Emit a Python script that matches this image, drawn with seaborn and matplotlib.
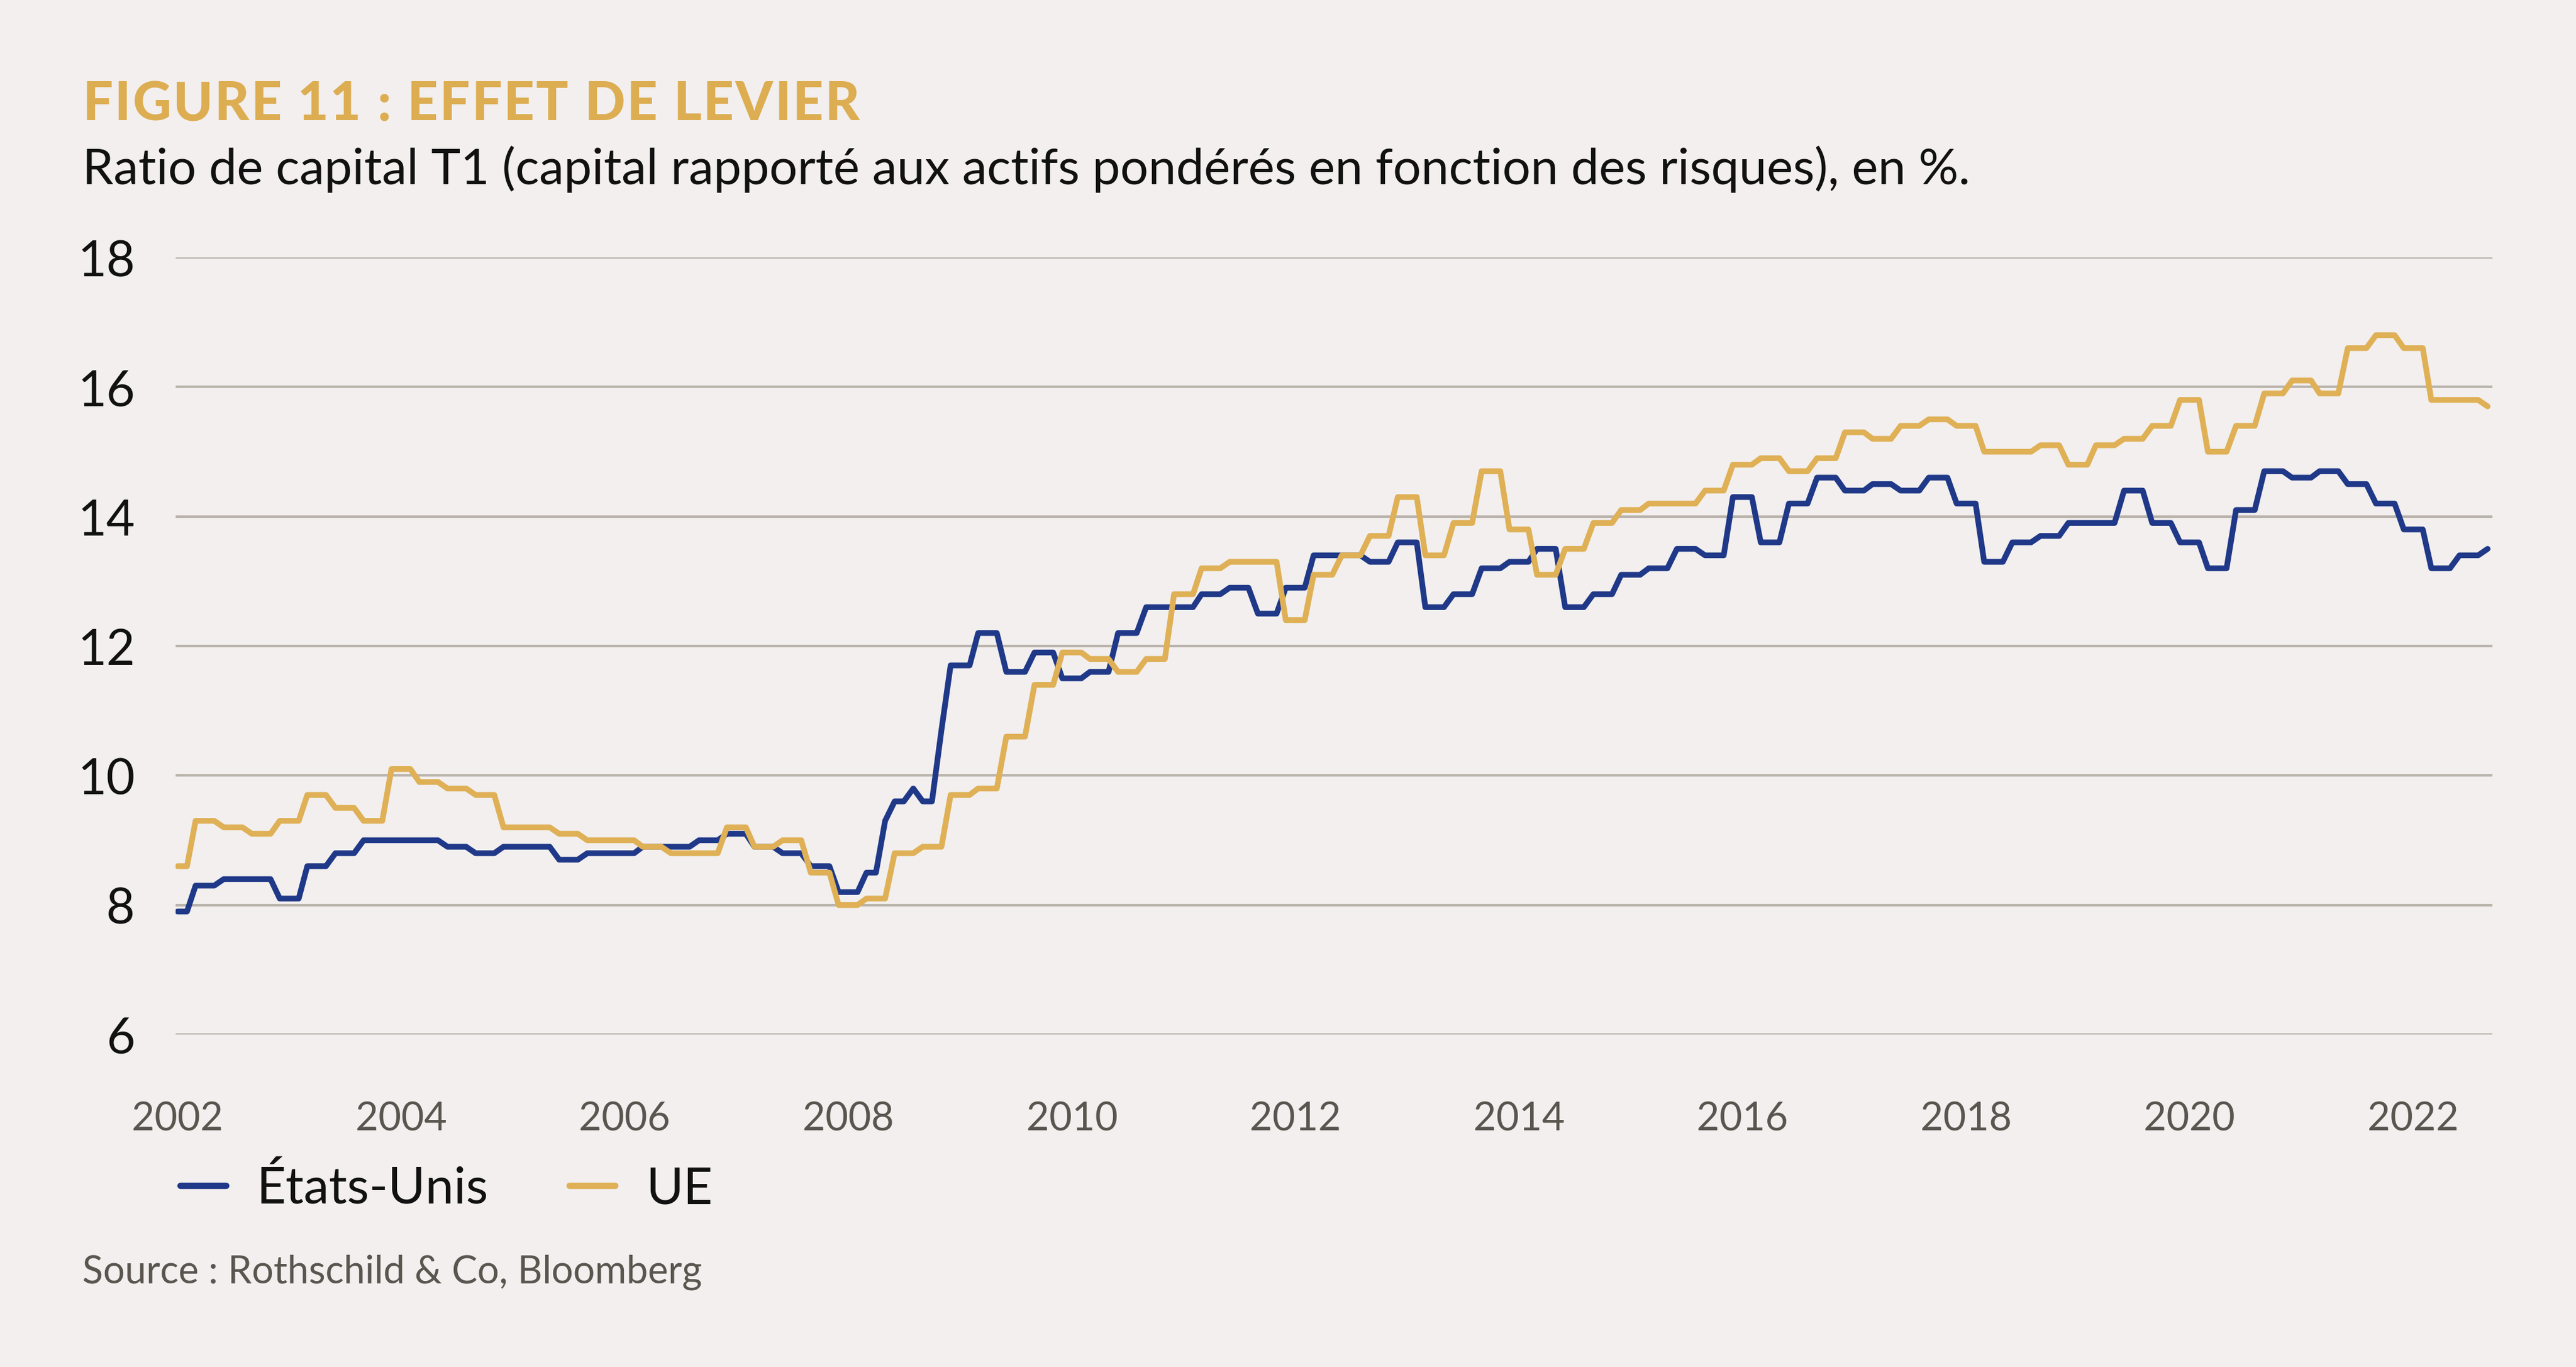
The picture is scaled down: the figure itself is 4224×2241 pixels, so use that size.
import numpy as np
import pandas as pd
import matplotlib
matplotlib.use("Agg")
import matplotlib.pyplot as plt
import matplotlib.dates as mdates
import seaborn as sns

# monthly values, Jan 2002 -> Sep 2022 (one row per year)
us_ratio = [
    7.9, 7.9, 8.3, 8.3, 8.3, 8.4, 8.4, 8.4, 8.4, 8.4, 8.4, 8.1,
    8.1, 8.1, 8.6, 8.6, 8.6, 8.8, 8.8, 8.8, 9.0, 9.0, 9.0, 9.0,
    9.0, 9.0, 9.0, 9.0, 9.0, 8.9, 8.9, 8.9, 8.8, 8.8, 8.8, 8.9,
    8.9, 8.9, 8.9, 8.9, 8.9, 8.7, 8.7, 8.7, 8.8, 8.8, 8.8, 8.8,
    8.8, 8.8, 8.9, 8.9, 8.9, 8.9, 8.9, 8.9, 9.0, 9.0, 9.0, 9.1,
    9.1, 9.1, 8.9, 8.9, 8.9, 8.8, 8.8, 8.8, 8.6, 8.6, 8.6, 8.2,
    8.2, 8.2, 8.5, 8.5, 9.3, 9.6, 9.6, 9.8, 9.6, 9.6, 10.7, 11.7,
    11.7, 11.7, 12.2, 12.2, 12.2, 11.6, 11.6, 11.6, 11.9, 11.9, 11.9, 11.5,
    11.5, 11.5, 11.6, 11.6, 11.6, 12.2, 12.2, 12.2, 12.6, 12.6, 12.6, 12.6,
    12.6, 12.6, 12.8, 12.8, 12.8, 12.9, 12.9, 12.9, 12.5, 12.5, 12.5, 12.9,
    12.9, 12.9, 13.4, 13.4, 13.4, 13.4, 13.4, 13.4, 13.3, 13.3, 13.3, 13.6,
    13.6, 13.6, 12.6, 12.6, 12.6, 12.8, 12.8, 12.8, 13.2, 13.2, 13.2, 13.3,
    13.3, 13.3, 13.5, 13.5, 13.5, 12.6, 12.6, 12.6, 12.8, 12.8, 12.8, 13.1,
    13.1, 13.1, 13.2, 13.2, 13.2, 13.5, 13.5, 13.5, 13.4, 13.4, 13.4, 14.3,
    14.3, 14.3, 13.6, 13.6, 13.6, 14.2, 14.2, 14.2, 14.6, 14.6, 14.6, 14.4,
    14.4, 14.4, 14.5, 14.5, 14.5, 14.4, 14.4, 14.4, 14.6, 14.6, 14.6, 14.2,
    14.2, 14.2, 13.3, 13.3, 13.3, 13.6, 13.6, 13.6, 13.7, 13.7, 13.7, 13.9,
    13.9, 13.9, 13.9, 13.9, 13.9, 14.4, 14.4, 14.4, 13.9, 13.9, 13.9, 13.6,
    13.6, 13.6, 13.2, 13.2, 13.2, 14.1, 14.1, 14.1, 14.7, 14.7, 14.7, 14.6,
    14.6, 14.6, 14.7, 14.7, 14.7, 14.5, 14.5, 14.5, 14.2, 14.2, 14.2, 13.8,
    13.8, 13.8, 13.2, 13.2, 13.2, 13.4, 13.4, 13.4, 13.5,
]

eu_ratio = [
    8.6, 8.6, 9.3, 9.3, 9.3, 9.2, 9.2, 9.2, 9.1, 9.1, 9.1, 9.3,
    9.3, 9.3, 9.7, 9.7, 9.7, 9.5, 9.5, 9.5, 9.3, 9.3, 9.3, 10.1,
    10.1, 10.1, 9.9, 9.9, 9.9, 9.8, 9.8, 9.8, 9.7, 9.7, 9.7, 9.2,
    9.2, 9.2, 9.2, 9.2, 9.2, 9.1, 9.1, 9.1, 9.0, 9.0, 9.0, 9.0,
    9.0, 9.0, 8.9, 8.9, 8.9, 8.8, 8.8, 8.8, 8.8, 8.8, 8.8, 9.2,
    9.2, 9.2, 8.9, 8.9, 8.9, 9.0, 9.0, 9.0, 8.5, 8.5, 8.5, 8.0,
    8.0, 8.0, 8.1, 8.1, 8.1, 8.8, 8.8, 8.8, 8.9, 8.9, 8.9, 9.7,
    9.7, 9.7, 9.8, 9.8, 9.8, 10.6, 10.6, 10.6, 11.4, 11.4, 11.4, 11.9,
    11.9, 11.9, 11.8, 11.8, 11.8, 11.6, 11.6, 11.6, 11.8, 11.8, 11.8, 12.8,
    12.8, 12.8, 13.2, 13.2, 13.2, 13.3, 13.3, 13.3, 13.3, 13.3, 13.3, 12.4,
    12.4, 12.4, 13.1, 13.1, 13.1, 13.4, 13.4, 13.4, 13.7, 13.7, 13.7, 14.3,
    14.3, 14.3, 13.4, 13.4, 13.4, 13.9, 13.9, 13.9, 14.7, 14.7, 14.7, 13.8,
    13.8, 13.8, 13.1, 13.1, 13.1, 13.5, 13.5, 13.5, 13.9, 13.9, 13.9, 14.1,
    14.1, 14.1, 14.2, 14.2, 14.2, 14.2, 14.2, 14.2, 14.4, 14.4, 14.4, 14.8,
    14.8, 14.8, 14.9, 14.9, 14.9, 14.7, 14.7, 14.7, 14.9, 14.9, 14.9, 15.3,
    15.3, 15.3, 15.2, 15.2, 15.2, 15.4, 15.4, 15.4, 15.5, 15.5, 15.5, 15.4,
    15.4, 15.4, 15.0, 15.0, 15.0, 15.0, 15.0, 15.0, 15.1, 15.1, 15.1, 14.8,
    14.8, 14.8, 15.1, 15.1, 15.1, 15.2, 15.2, 15.2, 15.4, 15.4, 15.4, 15.8,
    15.8, 15.8, 15.0, 15.0, 15.0, 15.4, 15.4, 15.4, 15.9, 15.9, 15.9, 16.1,
    16.1, 16.1, 15.9, 15.9, 15.9, 16.6, 16.6, 16.6, 16.8, 16.8, 16.8, 16.6,
    16.6, 16.6, 15.8, 15.8, 15.8, 15.8, 15.8, 15.8, 15.7,
]

series_names = ["États-Unis", "UE"]
y_ticks = [6, 8, 10, 12, 14, 16, 18]

title = "FIGURE 11 : EFFET DE LEVIER"
subtitle = "Ratio de capital T1 (capital rapporté aux actifs pondérés en fonction des risques), en %."
source = "Source : Rothschild & Co, Bloomberg"

BG = "#f2efee"
NAVY = "#1f3888"
GOLD = "#dfb055"
GRID = "#b9b3ac"
GREY_TXT = "#5b5550"

dates = pd.date_range("2002-01-01", periods=len(us_ratio), freq="MS")
df = pd.concat([
    pd.DataFrame({"date": dates, "ratio": us_ratio, "zone": series_names[0]}),
    pd.DataFrame({"date": dates, "ratio": eu_ratio, "zone": series_names[1]}),
])

sns.set_theme(style="white")
plt.rcParams["font.family"] = ["Lato", "DejaVu Sans"]

fig = plt.figure(figsize=(14.08, 7.4733), dpi=300, facecolor=BG)
ax = fig.add_axes([0.0682, 0.2431, 0.8994, 0.5682])
ax.set_facecolor(BG)

sns.lineplot(data=df, x="date", y="ratio", hue="zone", hue_order=series_names,
             palette={series_names[0]: NAVY, series_names[1]: GOLD},
             linewidth=2.25, ax=ax)

ax.set_ylim(6, 18)
ax.set_yticks(y_ticks)
ax.set_xlim(pd.Timestamp("2001-12-26"), pd.Timestamp("2022-09-17"))
ax.xaxis.set_major_locator(mdates.YearLocator(2))
ax.xaxis.set_major_formatter(mdates.DateFormatter("%Y"))
ax.set_xlabel("")
ax.set_ylabel("")
ax.grid(False)
ax.yaxis.grid(True, color=GRID, linewidth=1.0)
for s in ax.spines.values():
    s.set_visible(False)
ax.tick_params(axis="y", length=0, pad=16, labelsize=19.5, labelcolor="#111111")
ax.tick_params(axis="x", length=0, pad=26, labelsize=15.5, labelcolor=GREY_TXT)

leg = ax.legend(loc="center left", bbox_to_anchor=(0.070, 0.1303),
                bbox_transform=fig.transFigure, ncol=2, frameon=False,
                fontsize=20, handlelength=0.9, handletextpad=0.6,
                columnspacing=1.6, borderpad=0, borderaxespad=0)
for t in leg.get_texts():
    t.set_color("#111111")
for h in leg.get_lines():
    h.set_linewidth(2.5)
    h.set_solid_capstyle("round")


def spaced_text(x, y, text, width_px, **kw):
    # draw letter by letter to get the wide tracking of the title
    r = fig.canvas.get_renderer()
    W = fig.bbox.width
    widths = []
    for ch in text:
        t = fig.text(0, 0, ch, **kw)
        widths.append(t.get_window_extent(r).width)
        t.remove()
    track = (width_px - sum(widths)) / (len(text) - 1)
    for ch, w in zip(text, widths):
        fig.text(x, y, ch, **kw)
        x += (w + track) / W


spaced_text(0.0320, 0.9121, title, 1274, fontsize=21, fontweight="black",
            color="#ddad52", va="baseline")
fig.text(0.0320, 0.8653, subtitle, fontsize=19.6, color="#111111", va="baseline")
fig.text(0.0320, 0.0616, source, fontsize=15.1, color=GREY_TXT, va="baseline")

fig.savefig("out.png", dpi=300, facecolor=BG)
